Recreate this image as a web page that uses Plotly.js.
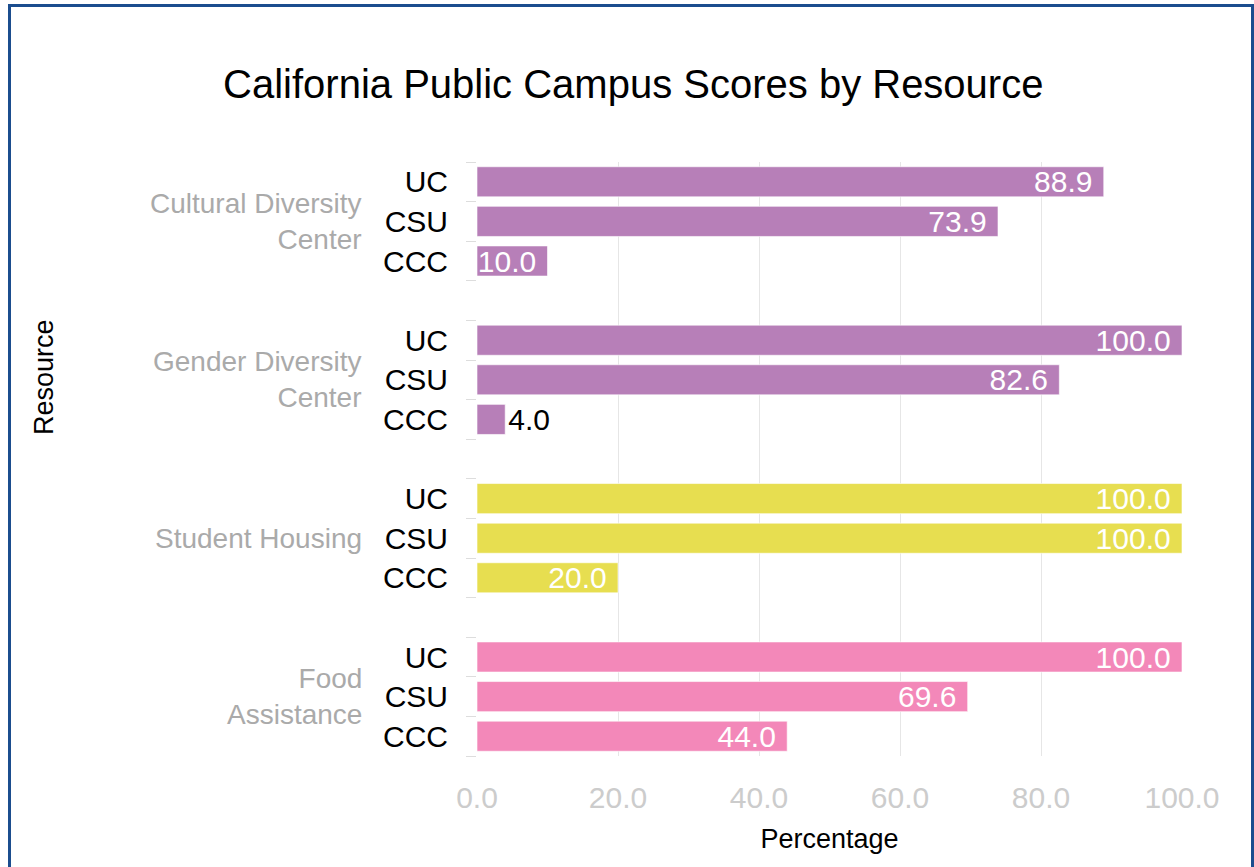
<!DOCTYPE html>
<html>
<head>
<meta charset="utf-8">
<script src="https://cdn.plot.ly/plotly-3.0.1.min.js"></script>
<style>
  html, body { margin: 0; padding: 0; background: #ffffff; overflow: hidden; }
  #chart { width: 1254px; height: 867px; }
  #frame { position: absolute; left: 8px; top: 4px; width: 1246px; height: 900px;
           box-sizing: border-box; border: 3px solid #1b4d8e; pointer-events: none; }
</style>
</head>
<body>
<div id="chart"></div>
<div id="frame"></div>
<script>
// ---- data ----
const resources = ["Cultural Diversity Center", "Gender Diversity Center", "Student Housing", "Food Assistance"];
const resourceLabels = ["Cultural Diversity<br>Center", "Gender Diversity<br>Center", "Student Housing", "Food<br>Assistance"];
const systems = ["UC", "CSU", "CCC"];
const culturalDiversity = [88.9, 73.9, 10.0];
const genderDiversity = [100.0, 82.6, 4.0];
const studentHousing = [100.0, 100.0, 20.0];
const foodAssistance = [100.0, 69.6, 44.0];
const colors = ["#b77fb8", "#b77fb8", "#e7de50", "#f388b9"];
const xTicks = [0, 20, 40, 60, 80, 100];

const seriesValues = [culturalDiversity, genderDiversity, studentHousing, foodAssistance];
const FONT = "Liberation Sans, Arial, sans-serif";
const slot = systems.length + 1; // one empty slot between resource groups

const traces = [];
const tickvals = [], ticktext = [];
resources.forEach((res, g) => {
  const ys = systems.map((s, i) => g * slot + i);
  ys.forEach((y, i) => { tickvals.push(y); ticktext.push(systems[i]); });
  traces.push({
    type: "bar",
    orientation: "h",
    name: res,
    x: seriesValues[g],
    y: ys,
    marker: { color: colors[g], line: { color: "rgba(255,255,255,0.6)", width: 1 } },
    texttemplate: "%{x:.1f}\u00a0",
    textposition: "auto",
    constraintext: "none",
    textangle: 0,
    insidetextanchor: "end",
    insidetextfont: { family: FONT, size: 30, color: "#ffffff" },
    outsidetextfont: { family: FONT, size: 30, color: "#000000" },
    cliponaxis: false,
    hoverinfo: "x+y",
    showlegend: false
  });
});

const nSlots = resources.length * slot - 1;   // 15 slots (12 bars + 3 gaps)
const boundaries = [];
for (let k = 0; k <= nSlots; k++) boundaries.push(k - 0.5);

const annotations = resources.map((res, g) => ({
  xref: "paper", yref: "y",
  x: 0, y: g * slot + (systems.length - 1) / 2,
  xanchor: "right", yanchor: "middle",
  xshift: -113,
  align: "right",
  text: resourceLabels[g],
  showarrow: false,
  font: { family: FONT, size: 28, color: "#aaaaaa" }
}));
// y-axis title
annotations.push({
  xref: "paper", yref: "paper",
  x: 0, y: 0.638,
  xanchor: "center", yanchor: "middle",
  xshift: -433,
  textangle: -90,
  text: "Resource",
  showarrow: false,
  font: { family: FONT, size: 27, color: "#000000" }
});

const layout = {
  width: 1254, height: 867,
  paper_bgcolor: "#ffffff", plot_bgcolor: "#ffffff",
  margin: { l: 477, r: 72, t: 162, b: 111 },
  barmode: "overlay",
  bargap: 0.24,
  font: { family: FONT, color: "#000000" },
  title: {
    text: "California Public Campus Scores by Resource",
    font: { family: FONT, size: 40, color: "#000000" },
    x: 0.505, xanchor: "center",
    y: 0.903, yanchor: "middle", yref: "container"
  },
  xaxis: {
    range: [0, 100],
    tickvals: xTicks,
    tickformat: ".1f",
    showgrid: true, gridcolor: "#e6e6e6", gridwidth: 1,
    zeroline: false,
    showline: false,
    ticks: "",
    ticklabelstandoff: 21,
    tickfont: { family: FONT, size: 30, color: "#cccccc" },
    title: { text: "Percentage", font: { family: FONT, size: 27, color: "#000000" }, standoff: 16 }
  },
  yaxis: {
    range: [nSlots - 0.5, -0.5],
    tickmode: "array",
    tickvals: tickvals,
    ticktext: ticktext,
    ticks: "",
    ticklabelstandoff: 28,
    showgrid: false,
    zeroline: false,
    showline: false,
    tickfont: { family: FONT, size: 30, color: "#000000" },
    minor: { tickmode: "array", tickvals: boundaries, ticks: "outside", ticklen: 10, tickwidth: 1, tickcolor: "#dddddd", showgrid: false }
  },
  annotations: annotations
};

Plotly.newPlot("chart", traces, layout, { displayModeBar: false, staticPlot: true });
</script>
</body>
</html>
